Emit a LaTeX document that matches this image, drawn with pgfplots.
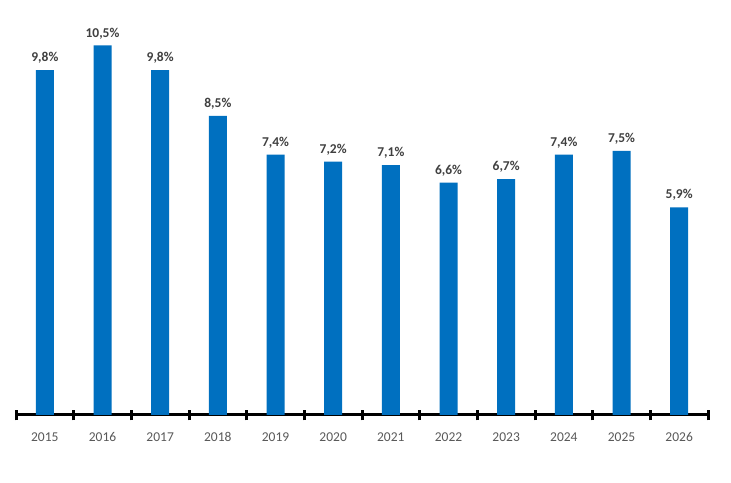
\documentclass[border=0pt]{standalone}
\usepackage{pgfplots}
\pgfplotsset{compat=1.18}
\usepackage{fontspec}
\setmainfont{Carlito}
\definecolor{barblue}{HTML}{0070C0}
\definecolor{lbl}{HTML}{404040}
\definecolor{tck}{HTML}{595959}
\begin{document}
\begin{tikzpicture}
\fill[white] (0,0) rectangle (731pt,482pt);
\begin{axis}[
    at={(16pt,67pt)}, anchor=south west,
    scale only axis, width=692pt, height=404.8pt,
    xmin=-0.5, xmax=11.5, ymin=0, ymax=11.5,
    axis x line*=bottom, axis y line=none,
    x axis line style={line width=3pt, black},
    xtick={0,...,11},
    xticklabels={2015,2016,2017,2018,2019,2020,2021,2022,2023,2024,2025,2026},
    major tick length=0pt,
    xticklabel style={font=\fontsize{13.5pt}{16pt}\selectfont, text=tck, yshift=-14pt},
    extra x ticks={-0.5,0.5,...,11.5},
    extra x tick labels={},
    extra x tick style={major tick length=11pt, tick align=center,
        tick style={line width=3pt, black}},
    ybar, bar width=18pt,
    nodes near coords={\pgfmathprintnumber[fixed,precision=1,fixed zerofill,use comma,assume math mode=true]{\pgfplotspointmeta}\%},
    every node near coord/.append style={font=\bfseries\fontsize{13.5pt}{16pt}\selectfont, text=lbl, yshift=3pt},
    clip=false,
]
\addplot[fill=barblue, draw=none] coordinates {
(0,9.8) (1,10.5) (2,9.8) (3,8.5) (4,7.4) (5,7.2) (6,7.1) (7,6.6) (8,6.7) (9,7.4) (10,7.5) (11,5.9)
};
\end{axis}
\end{tikzpicture}
\end{document}
